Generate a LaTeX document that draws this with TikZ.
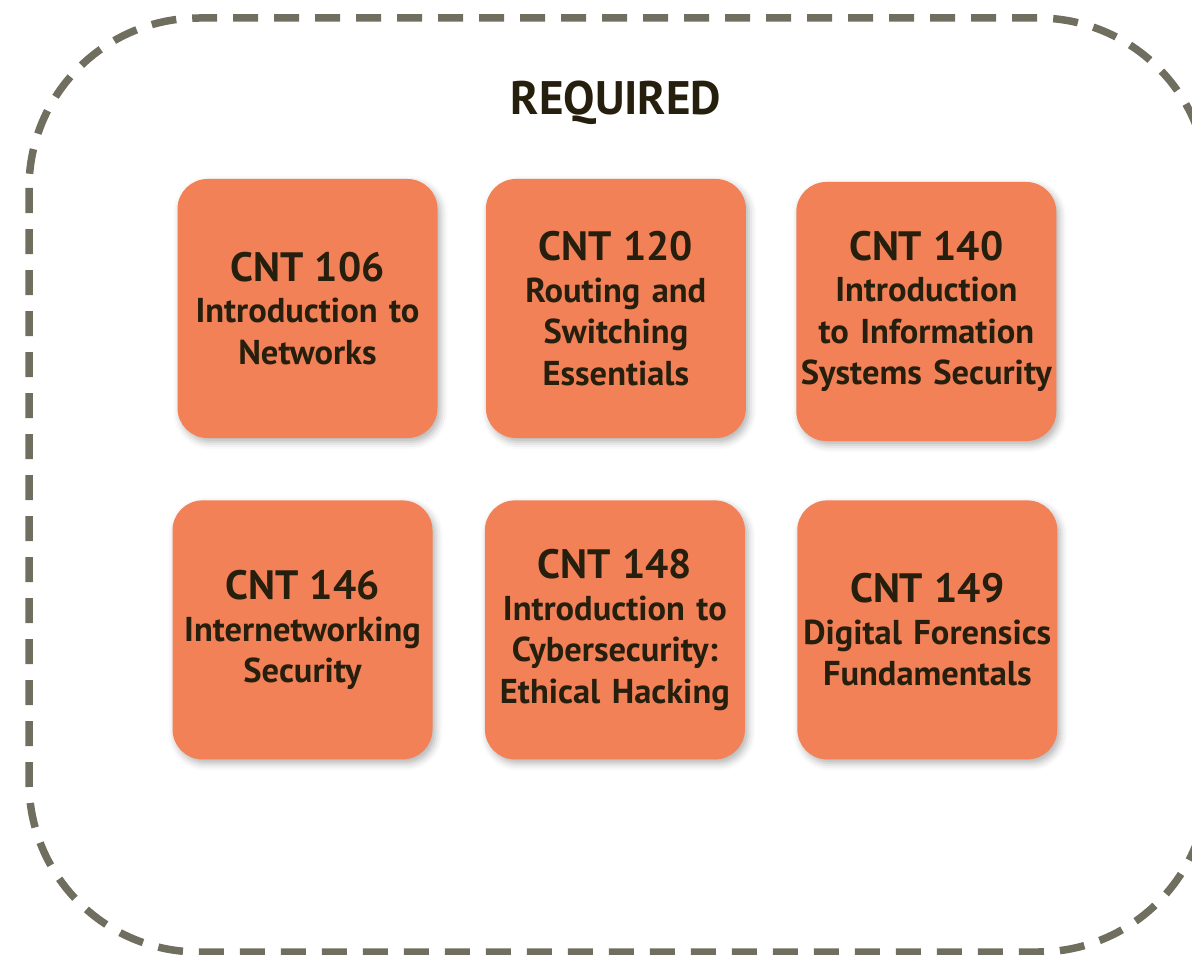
\documentclass[tikz,border=0pt]{standalone}
\usepackage{fontspec}
\setmainfont{PT Sans}
\usepackage{xcolor}
\usetikzlibrary{positioning}
\usetikzlibrary{shadows.blur}
\definecolor{courseorange}{HTML}{F28157}
\definecolor{framegray}{HTML}{706E5F}
\definecolor{inkdark}{HTML}{261F0E}

\begin{document}
\begin{tikzpicture}[x=1pt, y=-1pt,
  node distance = 48pt,
  box/.style = {rectangle,rounded corners=30pt,fill=courseorange,
        minimum width=260pt,minimum height=259pt,inner sep=0pt,
        text width=258pt,align=center,text=inkdark,
        font=\fontsize{34.5}{41.5}\selectfont\bfseries,
        blur shadow={shadow xshift=3pt,shadow yshift=-4pt,
                     shadow blur radius=7pt,shadow opacity=30}},
  heading/.style = {font=\fontsize{47}{50}\selectfont\bfseries,text=inkdark},
  frame/.style = {draw=framegray,line width=7.5pt,dash pattern=on 25pt off 16pt,
        rounded corners=170pt}
]
 \clip (0,0) rectangle (1192,955);
 \draw[frame] (29,18) rectangle (1208,952);
 \node[heading] (req) at (616,103) {REQUIRED};
 \node[box] (c106) at (307.5,308.5)
   {{\fontsize{41}{41.5}\selectfont CNT 106}\\Introduction to\\Networks};
 \node[box, right=48pt of c106] (c120)
   {{\fontsize{41}{41.5}\selectfont CNT 120}\\Routing and\\Switching\\Essentials};
 \node[box, right=50pt of c120, yshift=-3pt] (c140)
   {{\fontsize{41}{41.5}\selectfont CNT 140}\\Introduction\\to Information\\Systems Security};
 \node[box, below=62pt of c106, xshift=-5pt] (c146)
   {{\fontsize{41}{41.5}\selectfont CNT 146}\\Internetworking\\Security};
 \node[box, right=52pt of c146] (c148)
   {{\fontsize{41}{41.5}\selectfont CNT 148}\\Introduction to\\Cybersecurity:\\Ethical Hacking};
 \node[box, right=52pt of c148] (c149)
   {{\fontsize{41}{41.5}\selectfont CNT 149}\\Digital Forensics\\Fundamentals};
\end{tikzpicture}
\end{document}
